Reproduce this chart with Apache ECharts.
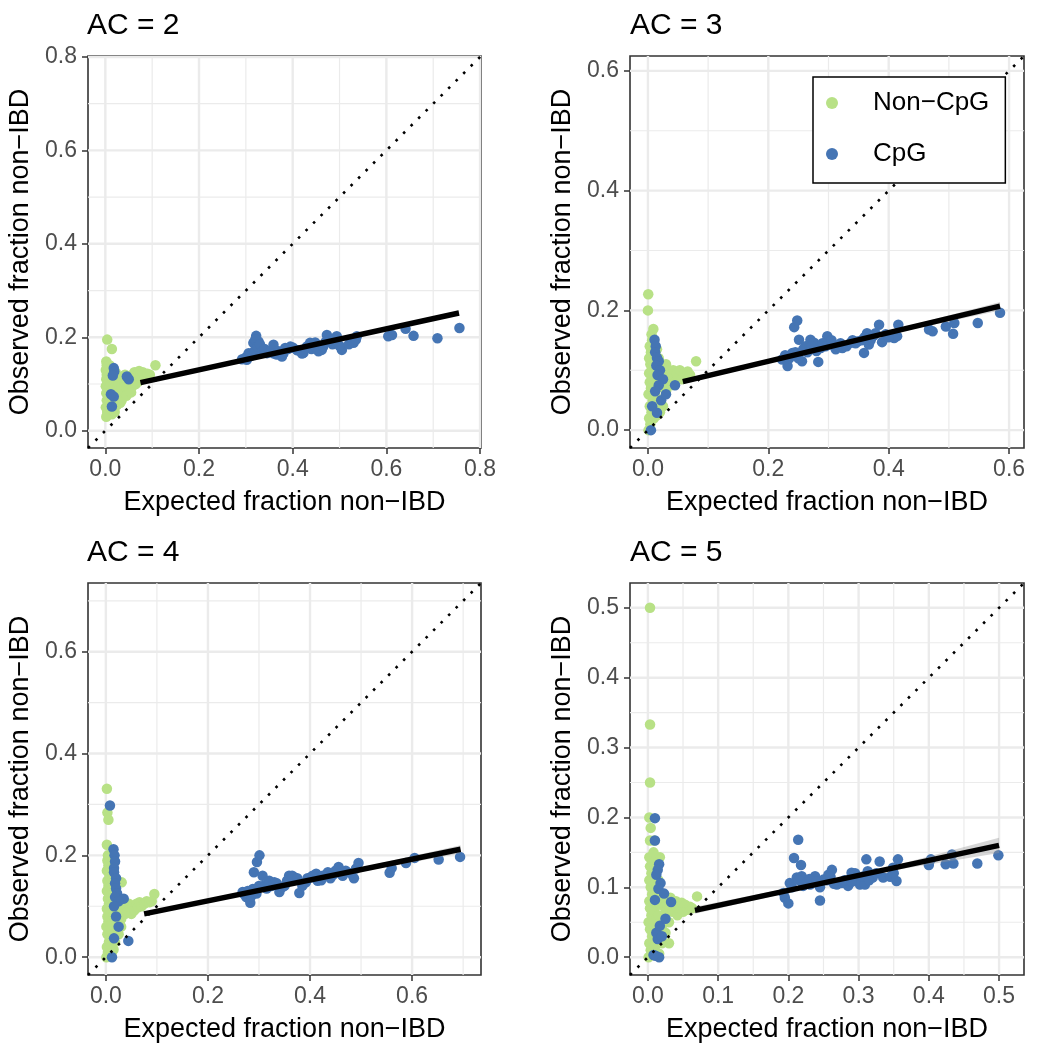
<!DOCTYPE html>
<html><head><meta charset="utf-8">
<script src="https://cdn.jsdelivr.net/npm/echarts@6/dist/echarts.min.js"></script>
<style>html,body{margin:0;padding:0;background:#fff}#c{width:1037px;height:1050px}</style>
</head><body><div id="c"></div>
<script>
// ---------- data ----------
const panelTitles = ['AC = 2', 'AC = 3', 'AC = 4', 'AC = 5'];
const seriesNames = ['Non\u2212CpG', 'CpG'];
const xTitle = 'Expected fraction non\u2212IBD';
const yTitle = 'Observed fraction non\u2212IBD';
const axisRanges = [[-0.037, 0.802], [-0.0298, 0.6248], [-0.035, 0.735], [-0.0255, 0.5355]];
const majorTicks = [[0, 0.2, 0.4, 0.6, 0.8], [0, 0.2, 0.4, 0.6], [0, 0.2, 0.4, 0.6], [0, 0.1, 0.2, 0.3, 0.4, 0.5]];
const minorTicks = [[0.1, 0.3, 0.5, 0.7], [0.1, 0.3, 0.5], [0.1, 0.3, 0.5, 0.7], [0.05, 0.15, 0.25, 0.35, 0.45]];

// AC = 2
const nonCpG_AC2 = [[0.004,0.195],[0.014,0.175],[0.002,0.148],[0.107,0.140],
 [0.002,0.030],[0.004,0.040],[0.001,0.050],[0.006,0.055],[0.003,0.065],[0.008,0.070],[0.002,0.080],[0.005,0.085],[0.009,0.090],[0.001,0.095],[0.004,0.100],[0.007,0.105],[0.002,0.110],[0.006,0.115],[0.003,0.120],[0.008,0.125],[0.001,0.130],[0.005,0.135],[0.003,0.140],[0.010,0.060],[0.011,0.045],[0.012,0.080],[0.012,0.100],[0.010,0.120],
 [0.014,0.035],[0.016,0.060],[0.014,0.090],[0.016,0.110],[0.013,0.130],[0.009,0.140],[0.006,0.035],
 [0.015,0.070],[0.018,0.090],[0.020,0.110],[0.022,0.125],[0.025,0.075],[0.028,0.100],[0.030,0.085],[0.032,0.115],[0.035,0.095],[0.038,0.080],[0.040,0.105],[0.042,0.120],[0.045,0.090],[0.048,0.110],[0.050,0.088],[0.052,0.100],[0.055,0.118],[0.058,0.095],[0.060,0.108],[0.062,0.125],[0.065,0.100],[0.068,0.115],[0.070,0.105],[0.072,0.128],[0.075,0.118],[0.078,0.110],[0.080,0.125],[0.083,0.120],[0.086,0.115],[0.090,0.122],[0.095,0.120],[0.035,0.065],[0.045,0.075],[0.055,0.082],[0.025,0.055],[0.015,0.050],[0.020,0.040],[0.032,0.060]];
const cpg_AC2 = [[0.018,0.134],[0.019,0.127],[0.016,0.118],[0.046,0.116],[0.050,0.110],[0.018,0.073],[0.014,0.052],[0.012,0.078],
 [0.292,0.153],[0.302,0.152],[0.306,0.166],[0.316,0.188],[0.322,0.203],[0.327,0.191],[0.331,0.177],[0.338,0.173],[0.345,0.166],[0.359,0.184],[0.366,0.163],[0.377,0.159],[0.384,0.177],[0.395,0.180],[0.409,0.173],[0.423,0.167],[0.437,0.188],[0.448,0.189],[0.462,0.173],[0.473,0.205],[0.480,0.191],[0.494,0.202],[0.505,0.173],[0.530,0.188],[0.537,0.202],[0.604,0.202],[0.612,0.205],[0.641,0.218],[0.658,0.203],[0.709,0.198],[0.756,0.220],
 [0.300,0.157],[0.310,0.160],[0.318,0.170],[0.320,0.195],[0.325,0.180],[0.330,0.185],[0.335,0.170],[0.340,0.175],[0.350,0.168],[0.355,0.172],[0.360,0.165],[0.370,0.170],[0.375,0.168],[0.380,0.165],[0.390,0.175],[0.400,0.178],[0.410,0.172],[0.420,0.165],[0.430,0.180],[0.440,0.175],[0.450,0.178],[0.455,0.170],[0.465,0.180],[0.470,0.190],[0.485,0.185],[0.490,0.198],[0.500,0.182],[0.520,0.185],[0.535,0.195]];
const fit_AC2 = [[0.075, 0.103], [0.755, 0.252]];
const band_AC2 = [[0.075, 0.099, 0.107], [0.300, 0.1505, 0.1545], [0.500, 0.1935, 0.1995], [0.755, 0.2475, 0.2575]];

// AC = 3
const nonCpG_AC3 = [[0.0005,0.227],[0.000,0.200],[0.009,0.169],[0.006,0.160],[0.080,0.115],
 [0.001,0.000],[0.004,0.010],[0.002,0.020],[0.006,0.030],[0.003,0.040],[0.008,0.050],[0.001,0.060],[0.005,0.070],[0.003,0.080],[0.009,0.085],[0.002,0.095],[0.006,0.100],[0.004,0.110],[0.008,0.115],[0.002,0.120],[0.005,0.130],[0.003,0.140],[0.007,0.150],[0.010,0.130],[0.011,0.095],[0.012,0.060],[0.010,0.020],
 [0.014,0.040],[0.016,0.075],[0.013,0.105],[0.015,0.135],[0.009,0.145],[0.006,0.125],
 [0.015,0.070],[0.018,0.090],[0.020,0.050],[0.022,0.110],[0.025,0.080],[0.028,0.095],[0.030,0.065],[0.032,0.085],[0.035,0.100],[0.038,0.075],[0.040,0.090],[0.042,0.100],[0.045,0.080],[0.048,0.095],[0.050,0.088],[0.053,0.100],[0.056,0.085],[0.060,0.095],[0.063,0.090],[0.066,0.098],[0.070,0.092],[0.025,0.040],[0.020,0.030],[0.015,0.025],[0.030,0.110],[0.018,0.120]];
const cpg_AC3 = [[0.011,0.151],[0.013,0.140],[0.012,0.130],[0.015,0.121],[0.018,0.115],[0.014,0.108],[0.020,0.100],[0.016,0.092],[0.025,0.085],[0.018,0.075],[0.012,0.065],[0.007,0.040],[0.015,0.029],[0.005,0.000],[0.022,0.050],[0.030,0.060],[0.045,0.075],
 [0.223,0.118],[0.232,0.107],[0.240,0.129],[0.243,0.172],[0.248,0.183],[0.251,0.151],[0.256,0.115],[0.262,0.140],[0.270,0.151],[0.276,0.146],[0.283,0.114],[0.287,0.137],[0.298,0.157],[0.301,0.143],[0.312,0.135],[0.323,0.137],[0.337,0.146],[0.348,0.148],[0.359,0.129],[0.364,0.162],[0.367,0.143],[0.378,0.162],[0.384,0.176],[0.389,0.147],[0.409,0.154],[0.414,0.157],[0.416,0.176],[0.467,0.168],[0.473,0.165],[0.495,0.173],[0.509,0.179],[0.507,0.161],[0.548,0.179],[0.585,0.196],
 [0.228,0.125],[0.235,0.120],[0.245,0.130],[0.250,0.120],[0.258,0.135],[0.265,0.130],[0.272,0.140],[0.280,0.132],[0.290,0.145],[0.295,0.140],[0.305,0.150],[0.315,0.140],[0.320,0.145],[0.330,0.140],[0.340,0.150],[0.345,0.145],[0.355,0.150],[0.360,0.155],[0.370,0.150],[0.375,0.158],[0.395,0.160],[0.400,0.155]];
const fit_AC3 = [[0.058, 0.081], [0.585, 0.207]];
const band_AC3 = [[0.058, 0.077, 0.085], [0.300, 0.136, 0.1416], [0.450, 0.171, 0.1785], [0.585, 0.200, 0.214]];

// AC = 4
const nonCpG_AC4 = [[0.002,0.331],[0.003,0.284],[0.005,0.270],[0.002,0.221],[0.004,0.200],[0.031,0.147],[0.095,0.124],
 [0.001,0.000],[0.004,0.010],[0.002,0.020],[0.006,0.030],[0.003,0.045],[0.008,0.050],[0.001,0.060],[0.005,0.070],[0.003,0.080],[0.009,0.085],[0.002,0.095],[0.006,0.105],[0.004,0.115],[0.008,0.120],[0.002,0.130],[0.005,0.140],[0.003,0.150],[0.007,0.160],[0.002,0.170],[0.005,0.180],[0.003,0.190],[0.006,0.195],[0.010,0.140],[0.011,0.100],[0.012,0.065],[0.010,0.025],
 [0.014,0.045],[0.015,0.120],[0.013,0.160],[0.009,0.175],[0.016,0.090],[0.012,0.010],
 [0.015,0.080],[0.018,0.100],[0.020,0.060],[0.022,0.120],[0.025,0.090],[0.028,0.105],[0.030,0.075],[0.032,0.095],[0.035,0.110],[0.038,0.085],[0.040,0.100],[0.042,0.090],[0.045,0.105],[0.048,0.095],[0.050,0.085],[0.053,0.100],[0.056,0.092],[0.060,0.105],[0.063,0.098],[0.066,0.108],[0.070,0.100],[0.075,0.105],[0.080,0.110],[0.085,0.108],[0.090,0.110],[0.025,0.045],[0.030,0.060],[0.018,0.030],[0.015,0.015]];
const cpg_AC4 = [[0.008,0.298],[0.015,0.212],[0.017,0.200],[0.018,0.188],[0.016,0.175],[0.016,0.167],[0.020,0.155],[0.018,0.145],[0.020,0.135],[0.022,0.125],[0.018,0.118],[0.035,0.115],[0.025,0.110],[0.016,0.100],[0.020,0.080],[0.016,0.037],[0.044,0.032],[0.012,0.000],[0.025,0.060],
 [0.268,0.128],[0.275,0.118],[0.283,0.107],[0.288,0.134],[0.290,0.167],[0.296,0.187],[0.301,0.200],[0.307,0.160],[0.310,0.141],[0.330,0.147],[0.340,0.128],[0.346,0.138],[0.359,0.160],[0.369,0.157],[0.379,0.126],[0.392,0.147],[0.402,0.157],[0.412,0.164],[0.422,0.151],[0.435,0.167],[0.445,0.162],[0.456,0.177],[0.464,0.160],[0.486,0.155],[0.490,0.174],[0.495,0.185],[0.556,0.166],[0.560,0.175],[0.588,0.185],[0.605,0.195],[0.652,0.192],[0.694,0.197],
 [0.270,0.125],[0.278,0.130],[0.285,0.120],[0.290,0.130],[0.295,0.125],[0.300,0.140],[0.315,0.135],[0.320,0.150],[0.325,0.140],[0.335,0.145],[0.350,0.140],[0.355,0.150],[0.365,0.160],[0.375,0.155],[0.385,0.140],[0.395,0.155],[0.405,0.160],[0.415,0.150],[0.425,0.160],[0.440,0.155],[0.450,0.170],[0.460,0.165],[0.470,0.170],[0.480,0.165]];
const fit_AC4 = [[0.075, 0.085], [0.695, 0.212]];
const band_AC4 = [[0.075, 0.081, 0.089], [0.350, 0.139, 0.1436], [0.500, 0.168, 0.176], [0.695, 0.204, 0.220]];

// AC = 5
const nonCpG_AC5 = [[0.003,0.500],[0.003,0.333],[0.003,0.250],[0.002,0.200],[0.004,0.185],[0.003,0.167],[0.009,0.167],[0.002,0.143],[0.017,0.143],[0.070,0.087],
 [0.001,0.000],[0.004,0.010],[0.002,0.020],[0.006,0.030],[0.003,0.040],[0.008,0.045],[0.001,0.050],[0.005,0.060],[0.003,0.070],[0.009,0.065],[0.002,0.080],[0.006,0.090],[0.004,0.100],[0.008,0.105],[0.002,0.110],[0.005,0.120],[0.003,0.130],[0.007,0.135],[0.010,0.125],[0.011,0.090],[0.012,0.055],[0.010,0.015],
 [0.014,0.035],[0.013,0.075],[0.015,0.110],[0.012,0.140],[0.008,0.150],[0.016,0.005],
 [0.015,0.060],[0.018,0.075],[0.020,0.045],[0.022,0.085],[0.025,0.065],[0.028,0.075],[0.030,0.050],[0.032,0.085],[0.035,0.065],[0.038,0.075],[0.040,0.080],[0.042,0.060],[0.045,0.070],[0.048,0.078],[0.050,0.065],[0.053,0.075],[0.056,0.068],[0.060,0.072],[0.063,0.070],[0.025,0.035],[0.030,0.020],[0.020,0.020],[0.015,0.030]];
const cpg_AC5 = [[0.010,0.199],[0.010,0.167],[0.016,0.133],[0.014,0.125],[0.012,0.118],[0.018,0.106],[0.015,0.098],[0.023,0.091],[0.010,0.082],[0.033,0.079],[0.014,0.026],[0.011,0.002],[0.016,0.000],[0.008,0.003],[0.012,0.035],[0.020,0.030],[0.017,0.045],[0.025,0.055],
 [0.214,0.168],[0.208,0.142],[0.218,0.132],[0.193,0.092],[0.195,0.085],[0.200,0.077],[0.202,0.106],[0.212,0.114],[0.219,0.116],[0.221,0.102],[0.231,0.104],[0.238,0.116],[0.245,0.081],[0.250,0.111],[0.257,0.118],[0.262,0.125],[0.269,0.104],[0.276,0.106],[0.285,0.102],[0.290,0.121],[0.297,0.114],[0.302,0.104],[0.309,0.104],[0.311,0.140],[0.313,0.123],[0.320,0.114],[0.330,0.137],[0.335,0.114],[0.349,0.128],[0.354,0.109],[0.356,0.140],[0.400,0.132],[0.403,0.140],[0.424,0.133],[0.433,0.147],[0.435,0.134],[0.469,0.134],[0.499,0.146],
 [0.205,0.100],[0.215,0.110],[0.225,0.105],[0.230,0.112],[0.240,0.108],[0.245,0.100],[0.255,0.110],[0.260,0.115],[0.265,0.105],[0.280,0.110],[0.290,0.108],[0.295,0.120],[0.305,0.115],[0.315,0.110],[0.325,0.120],[0.345,0.115],[0.350,0.120]];
const fit_AC5 = [[0.067, 0.067], [0.500, 0.160]];
const band_AC5 = [[0.067, 0.062, 0.072], [0.250, 0.1035, 0.109], [0.350, 0.1245, 0.131], [0.500, 0.149, 0.171]];

const nonCpGData = [nonCpG_AC2, nonCpG_AC3, nonCpG_AC4, nonCpG_AC5];
const cpgData = [cpg_AC2, cpg_AC3, cpg_AC4, cpg_AC5];
const fitData = [fit_AC2, fit_AC3, fit_AC4, fit_AC5];
const bandData = [band_AC2, band_AC3, band_AC4, band_AC5];

// ---------- styles / layout ----------
const FONT = '"Liberation Sans", Arial, Helvetica, sans-serif';
const GREEN = '#b8e186', BLUE = '#4575b4';
const grids = [
  {left: 88, top: 56, width: 393, height: 392},
  {left: 630, top: 56, width: 394, height: 392},
  {left: 88, top: 583, width: 393, height: 392},
  {left: 630, top: 583, width: 394, height: 392}
];
const titlePos = [{left: 87, top: 11}, {left: 630, top: 11}, {left: 87, top: 538}, {left: 630, top: 538}];

function gridLineSeries(i, values, vertical, width) {
  return {
    type: 'custom', xAxisIndex: i, yAxisIndex: i, z: 1, silent: true,
    data: values.map(v => [v, v]),
    renderItem: function (params, api) {
      const cs = params.coordSys;
      const p = api.coord([api.value(0), api.value(1)]);
      const shape = vertical
        ? {x1: p[0], y1: cs.y, x2: p[0], y2: cs.y + cs.height}
        : {x1: cs.x, y1: p[1], x2: cs.x + cs.width, y2: p[1]};
      return {type: 'line', shape: shape, style: {stroke: '#EBEBEB', lineWidth: width}};
    }
  };
}

const option = {
  animation: false,
  backgroundColor: '#fff',
  textStyle: {fontFamily: FONT},
  title: panelTitles.map((t, i) => ({
    text: t, left: titlePos[i].left, top: titlePos[i].top, padding: 0,
    textStyle: {fontSize: 30, fontWeight: 'normal', color: '#000', fontFamily: FONT}
  })),
  legend: {
    data: seriesNames, orient: 'vertical', left: 813, top: 77,
    padding: [13, 16, 16, 13], itemWidth: 12, itemHeight: 12, itemGap: 25,
    icon: 'circle', borderColor: '#000', borderWidth: 1.5, backgroundColor: '#fff', z: 10,
    textStyle: {fontSize: 26, color: '#000', fontFamily: FONT, padding: [0, 0, 0, 30]}
  },
  grid: grids.map(g => Object.assign({show: true, borderColor: '#333', borderWidth: 1.6, backgroundColor: '#fff'}, g)),
  xAxis: axisRanges.map((r, i) => ({
    gridIndex: i, type: 'value', min: r[0], max: r[1],
    name: xTitle, nameLocation: 'middle', nameGap: 41,
    nameTextStyle: {fontSize: 27, color: '#000', fontFamily: FONT},
    axisLine: {show: false, onZero: false},
    axisTick: {show: true, length: 6, customValues: majorTicks[i], lineStyle: {color: '#333', width: 1.5}},
    axisLabel: {customValues: majorTicks[i], formatter: v => v.toFixed(1), fontSize: 23, color: '#4D4D4D', margin: 10, fontFamily: FONT},
    splitLine: {show: false}
  })),
  yAxis: axisRanges.map((r, i) => ({
    gridIndex: i, type: 'value', min: r[0], max: r[1],
    name: yTitle, nameLocation: 'middle', nameGap: 54,
    nameTextStyle: {fontSize: 27, color: '#000', fontFamily: FONT},
    axisLine: {show: false, onZero: false},
    axisTick: {show: true, length: 6, customValues: majorTicks[i], lineStyle: {color: '#333', width: 1.5}},
    axisLabel: {customValues: majorTicks[i], formatter: v => v.toFixed(1), fontSize: 23, color: '#4D4D4D', margin: 11, fontFamily: FONT},
    splitLine: {show: false}
  })),
  series: []
};

for (let i = 0; i < 4; i++) {
  option.series.push(gridLineSeries(i, minorTicks[i], true, 1.2));
  option.series.push(gridLineSeries(i, minorTicks[i], false, 1.2));
  option.series.push(gridLineSeries(i, majorTicks[i], true, 2.4));
  option.series.push(gridLineSeries(i, majorTicks[i], false, 2.4));
  option.series.push({
    name: seriesNames[0], type: 'scatter', xAxisIndex: i, yAxisIndex: i, z: 2,
    data: nonCpGData[i], symbolSize: 10.5, itemStyle: {color: GREEN, opacity: 1}
  });
  option.series.push({
    name: seriesNames[1], type: 'scatter', xAxisIndex: i, yAxisIndex: i, z: 2,
    data: cpgData[i], symbolSize: 10.5, itemStyle: {color: BLUE, opacity: 1}
  });
  const band = bandData[i];
  option.series.push({
    type: 'custom', xAxisIndex: i, yAxisIndex: i, z: 3, silent: true,
    data: band.slice(0, band.length - 1),
    renderItem: function (params, api) {
      const a = band[params.dataIndex], b = band[params.dataIndex + 1];
      return {
        type: 'polygon',
        shape: {points: [api.coord([a[0], a[2]]), api.coord([b[0], b[2]]), api.coord([b[0], b[1]]), api.coord([a[0], a[1]])]},
        style: {fill: 'rgba(153,153,153,0.4)', stroke: null}
      };
    }
  });
  option.series.push({
    type: 'line', xAxisIndex: i, yAxisIndex: i, z: 4, silent: true,
    data: fitData[i], showSymbol: false, symbol: 'none',
    lineStyle: {color: '#000', width: 5.5}
  });
  const r = axisRanges[i];
  option.series.push({
    type: 'line', xAxisIndex: i, yAxisIndex: i, z: 5, silent: true,
    data: [[r[0], r[0]], [r[1], r[1]]], showSymbol: false, symbol: 'none',
    lineStyle: {color: '#000', width: 2.6, type: [2.6, 8]}
  });
}

const chart = echarts.init(document.getElementById('c'), null, {renderer: 'canvas'});
chart.setOption(option);
</script>
</body></html>
